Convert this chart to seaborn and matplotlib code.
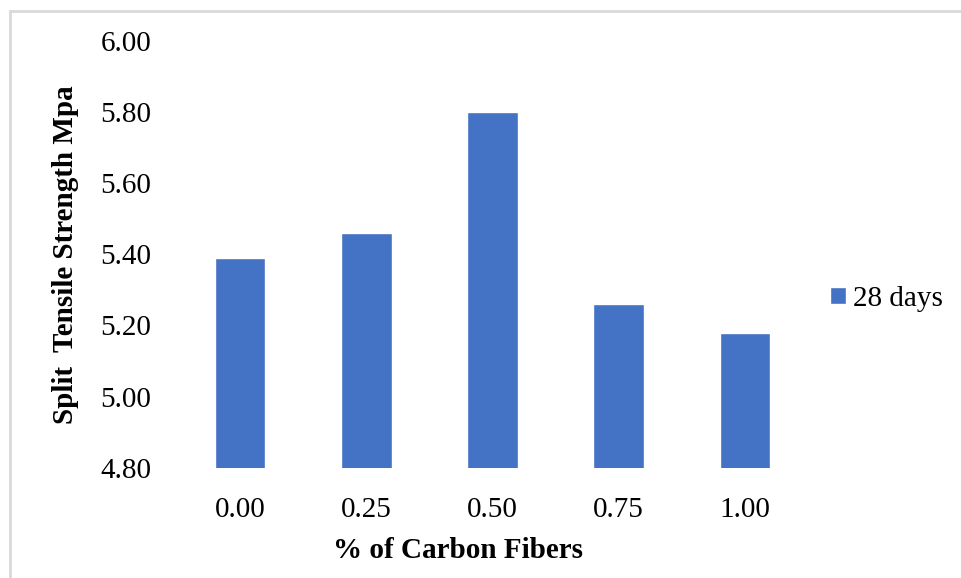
import matplotlib
matplotlib.use("Agg")
import matplotlib.pyplot as plt
import seaborn as sns
import pandas as pd
from matplotlib.lines import Line2D

fiber_pct = ["0.00", "0.25", "0.50", "0.75", "1.00"]
strength_28d = [5.39, 5.46, 5.80, 5.26, 5.18]
series_name = "28 days"
y_ticks = [4.80, 5.00, 5.20, 5.40, 5.60, 5.80, 6.00]

df = pd.DataFrame({"fiber": fiber_pct, "strength": strength_28d, "age": [series_name] * len(fiber_pct)})

sns.set_theme(style="white")
plt.rcParams["font.family"] = ["Liberation Serif", "DejaVu Serif"]
plt.rcParams["text.color"] = "black"
plt.rcParams["axes.labelcolor"] = "black"
plt.rcParams["xtick.color"] = "black"
plt.rcParams["ytick.color"] = "black"

fig = plt.figure(figsize=(9.62, 5.78), dpi=100)
ax = fig.add_axes([177 / 962, 1 - 467.7 / 578, (808 - 177) / 962, (467.7 - 41) / 578])

sns.barplot(data=df, x="fiber", y="strength", hue="age", palette=["#4472C4"],
            saturation=1, width=0.4, dodge=False, ax=ax, legend=True)

ax.set_ylim(4.80, 6.00)
ax.set_yticks(y_ticks)
ax.set_yticklabels([f"{v:.2f}" for v in y_ticks])
ax.tick_params(axis="both", labelsize=21, length=0, colors="black")
ax.tick_params(axis="y", pad=18.5)
ax.tick_params(axis="x", pad=21)
for s in ax.spines.values():
    s.set_visible(False)

ax.set_xlabel("% of Carbon Fibers", fontsize=21, fontweight="bold", labelpad=0)
ax.set_ylabel("Split  Tensile Strength Mpa", fontsize=21, fontweight="bold", labelpad=8)
ax.xaxis.set_label_coords(0.445, -0.163)
ax.yaxis.set_label_coords(-0.155, 0.5)

leg = ax.legend(loc="center left", bbox_to_anchor=(830 / 962, 1 - 299 / 578),
                bbox_transform=fig.transFigure, frameon=False, fontsize=21,
                handlelength=0.55, handleheight=0.55, handletextpad=0.25,
                borderaxespad=0, borderpad=0)

# light grey outer border (top and left visible)
fig.add_artist(Line2D([10 / 962, 1.0], [1 - 11 / 578, 1 - 11 / 578], transform=fig.transFigure,
                      color="#d9d9d9", lw=2))
fig.add_artist(Line2D([10 / 962, 10 / 962], [0.0, 1 - 11 / 578], transform=fig.transFigure,
                      color="#d9d9d9", lw=2))

fig.savefig("out.png", dpi=100)
